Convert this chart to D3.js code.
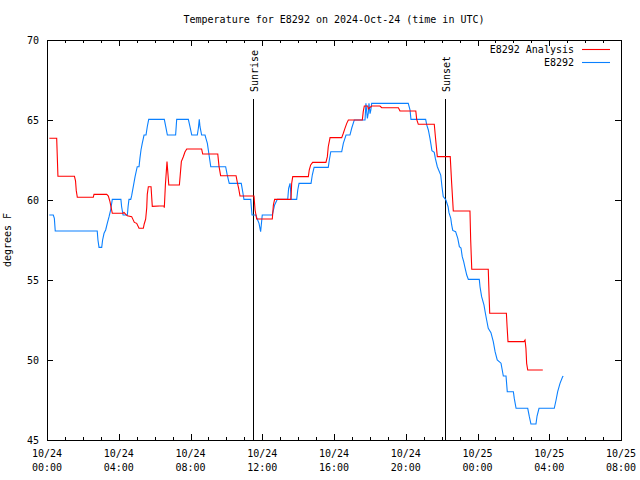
<!DOCTYPE html>
<html><head><meta charset="utf-8">
<script src="https://cdn.jsdelivr.net/npm/d3@7/dist/d3.min.js"></script>
<style>
body{margin:0;background:#fff;}
text{font-family:"DejaVu Sans Mono","Liberation Mono",monospace;font-size:10px;fill:#000;}
</style></head>
<body><svg id="c" width="640" height="480"></svg>
<script>
const title = "Temperature for E8292 on 2024-Oct-24 (time in UTC)";
const yLabel = "degrees F";
const seriesNames = ["E8292 Analysis", "E8292"];
const seriesColors = ["#ff0000", "#0a80ff"];
const yTicks = [45, 50, 55, 60, 65, 70];
const sunEvents = ["Sunrise", "Sunset"];
const sunHours = [11.49, 22.2];

// Hours after 2024-10-24 00:00 UTC, and temperature (F)
const analysisHours = [0.13,0.54,0.61,1.53,1.59,1.63,1.69,2.58,2.62,3.33,3.42,3.51,3.64,4.25,4.29,4.39,4.48,4.72,4.87,5.0,5.13,5.37,5.42,5.5,5.56,5.59,5.65,5.8,5.87,6.52,6.54,6.6,6.69,6.79,7.38,7.42,7.49,7.6,7.69,7.79,8.62,8.68,9.52,9.59,9.68,10.54,10.61,10.69,10.76,11.54,11.6,11.69,12.56,12.62,12.69,13.6,13.64,13.7,14.57,14.62,14.7,14.81,15.55,15.63,15.68,15.78,16.43,16.52,16.61,16.71,16.8,17.58,17.63,17.69,17.88,17.91,18.1,18.56,18.66,19.59,19.68,20.56,20.61,20.7,21.59,21.67,21.76,22.48,22.56,22.62,22.65,23.58,23.62,23.68,24.6,24.64,24.68,25.61,25.65,25.7,26.59,26.65,26.7,26.74,26.8,27.64];
const analysisTemps = [63.86,63.86,61.48,61.48,61.2,60.6,60.17,60.17,60.35,60.35,60.25,59.9,59.17,59.17,59.23,59.1,59.02,58.96,58.6,58.54,58.23,58.23,58.5,58.8,59.52,60.35,60.83,60.83,59.6,59.64,59.52,60.94,62.4,60.94,60.94,61.46,62.4,62.7,63.0,63.19,63.19,62.875,62.875,62.1,61.52,61.52,61.1,60.7,60.25,60.25,59.375,58.81,58.81,59.69,60.04,60.04,61.04,61.46,61.46,61.875,62.19,62.35,62.35,62.71,63.33,63.9,63.9,64.17,64.48,64.79,65.0,65.0,65.52,65.875,65.875,65.69,65.875,65.875,65.77,65.77,65.56,65.56,65.04,64.73,64.73,63.75,62.71,62.71,61.04,59.9,59.31,59.31,57.5,55.67,55.67,54.27,52.92,52.92,52.08,51.15,51.15,51.25,50.73,49.79,49.375,49.375];

const obsHours = [0.13,0.35,0.41,0.46,2.8,2.84,2.9,3.05,3.1,3.18,3.27,3.36,3.46,3.55,3.64,4.12,4.16,4.24,4.48,4.52,4.57,4.67,4.72,4.81,4.91,5.03,5.13,5.18,5.24,5.31,5.41,5.52,5.59,5.67,6.54,6.62,6.71,7.17,7.23,7.88,7.97,8.07,8.38,8.44,8.49,8.53,8.62,8.81,8.86,8.94,9.02,9.13,9.96,10.05,10.16,10.83,10.91,10.98,11.36,11.39,11.43,11.65,11.72,11.82,11.91,12.0,12.56,12.69,12.84,13.42,13.47,13.55,13.59,13.6,13.92,13.98,14.05,14.72,14.79,14.89,15.68,15.74,15.82,16.43,16.52,16.67,16.89,16.99,17.13,17.73,17.78,17.86,17.91,17.95,18.01,18.05,18.1,20.14,20.24,20.29,21.11,21.17,21.26,21.35,21.41,21.46,21.59,21.65,21.76,21.95,22.02,22.09,22.24,22.36,22.41,22.51,22.56,22.62,22.78,22.9,22.99,23.08,23.15,23.23,23.3,23.4,23.49,24.1,24.14,24.23,24.36,24.44,24.51,24.6,24.75,24.88,24.98,25.1,25.31,25.44,25.59,25.66,26.0,26.05,26.15,26.8,26.89,26.98,27.26,27.32,27.43,28.28,28.38,28.47,28.6,28.75,28.78];
const obsTemps = [59.06,59.06,58.85,58.06,58.06,57.5,57.04,57.04,57.5,57.92,58.125,58.54,58.96,59.375,60.04,60.04,59.58,59.06,59.06,59.58,60.04,60.04,60.27,60.83,61.46,62.08,62.08,62.6,63.125,63.54,64.06,64.06,64.58,65.04,65.04,64.58,64.06,64.06,65.04,65.04,64.58,64.06,64.06,64.5,65.04,64.58,64.06,64.06,63.85,63.54,62.92,62.08,62.08,61.56,61.04,61.04,60.52,60.04,60.04,59.58,59.06,59.06,58.81,58.54,58.02,59.06,59.06,59.69,60.04,60.04,60.73,61.04,60.42,60.04,60.04,60.625,61.04,61.04,61.56,62.04,62.04,62.5,63.02,63.02,63.54,64.06,64.06,64.5,65.0,65.0,66.04,65.1,65.42,66.04,65.4,65.6,66.04,66.04,65.625,65.04,65.04,64.69,64.375,63.85,63.44,63.08,62.98,62.6,62.08,61.56,60.83,60.21,60.0,59.58,59.21,58.85,58.44,58.1,58.02,57.6,57.08,57.0,56.46,56.15,55.79,55.31,55.04,55.04,54.58,53.96,53.44,52.92,52.5,51.98,51.71,51.15,50.52,50.0,49.8,49.0,49.0,48.02,48.02,47.6,46.98,46.98,46.46,46.0,46.0,46.5,46.98,46.98,47.5,48.02,48.54,48.96,49.0];

const t0 = Date.UTC(2024, 9, 24, 0, 0);
const toDate = h => new Date(t0 + h * 3600000);

const svg = d3.select("#c");
const L = 47, R = 621, T = 40, B = 440;
const x = d3.scaleUtc().domain([new Date(t0), new Date(Date.UTC(2024, 9, 25, 8, 0))]).range([L, R]);
const y = d3.scaleLinear().domain([45, 70]).range([B, T]);

const g = svg.append("g").attr("shape-rendering", "crispEdges");

// minor ticks (hourly) bottom & top
const minor = x.ticks(d3.utcHour.every(1));
const major = x.ticks(d3.utcHour.every(4));
g.append("g").attr("transform", `translate(0,${B})`)
  .call(d3.axisBottom(x).tickValues(minor).tickSize(-3).tickFormat(""))
  .call(a => a.select(".domain").remove());
g.append("g").attr("transform", `translate(0,${T})`)
  .call(d3.axisTop(x).tickValues(minor).tickSize(-3).tickFormat(""))
  .call(a => a.select(".domain").remove());
// major ticks
const xb = g.append("g").attr("transform", `translate(0,${B})`)
  .call(d3.axisBottom(x).tickValues(major).tickSize(-6).tickPadding(0).tickFormat(""))
  .call(a => a.select(".domain").remove());
g.append("g").attr("transform", `translate(0,${T})`)
  .call(d3.axisTop(x).tickValues(major).tickSize(-6).tickFormat(""))
  .call(a => a.select(".domain").remove());
const fmtD = d3.utcFormat("%m/%d"), fmtT = d3.utcFormat("%H:%M");
const lab = svg.append("g");
major.forEach(d => {
  const t = lab.append("text").attr("text-anchor", "middle");
  t.append("tspan").attr("x", x(d)).attr("y", 457).text(fmtD(d));
  t.append("tspan").attr("x", x(d)).attr("y", 471).text(fmtT(d));
});

// y axis
g.append("g").attr("transform", `translate(${L},0)`)
  .call(d3.axisLeft(y).tickValues(yTicks).tickSize(-6).tickFormat(""))
  .call(a => a.select(".domain").remove());
g.append("g").attr("transform", `translate(${R},0)`)
  .call(d3.axisRight(y).tickValues(yTicks).tickSize(-6).tickFormat(""))
  .call(a => a.select(".domain").remove());
yTicks.forEach(v => {
  lab.append("text").attr("x", 39).attr("y", y(v) + 3.5).attr("text-anchor", "end").text(v);
});
svg.selectAll(".tick line").attr("stroke", "#000");
svg.selectAll(".tick text").remove();

// border
g.append("rect").attr("x", L).attr("y", T).attr("width", R - L).attr("height", B - T)
  .attr("fill", "none").attr("stroke", "#000");

// title, y label
svg.append("text").attr("x", 334).attr("y", 23).attr("text-anchor", "middle").text(title);
svg.append("text").attr("transform", `translate(11,240) rotate(-90)`).attr("text-anchor", "middle").text(yLabel);

// sun lines
sunHours.forEach((h, i) => {
  const xv = Math.round(x(toDate(h))) + 0.5;
  svg.append("line").attr("x1", xv).attr("x2", xv).attr("y1", 99).attr("y2", B)
    .attr("stroke", "#000").attr("stroke-width", 1);
  svg.append("text").attr("transform", `translate(${xv + 4},92) rotate(-90)`).text(sunEvents[i]);
});

// series
const line = d3.line().x(d => x(toDate(d[0]))).y(d => y(d[1]));
const obs = obsHours.map((h, i) => [h, obsTemps[i]]);
const ana = analysisHours.map((h, i) => [h, analysisTemps[i]]);
svg.append("path").datum(obs).attr("d", line).attr("fill", "none")
  .attr("stroke", seriesColors[1]).attr("stroke-width", 1.1);
svg.append("path").datum(ana).attr("d", line).attr("fill", "none")
  .attr("stroke", seriesColors[0]).attr("stroke-width", 1.1);

// legend
const legY = [49.5, 62.5];
seriesNames.forEach((n, i) => {
  svg.append("text").attr("x", 574).attr("y", legY[i] + 3.5).attr("text-anchor", "end").text(n);
  svg.append("line").attr("x1", 582).attr("x2", 610).attr("y1", legY[i]).attr("y2", legY[i])
    .attr("stroke", seriesColors[i]).attr("stroke-width", 1.1);
});
</script></body></html>
